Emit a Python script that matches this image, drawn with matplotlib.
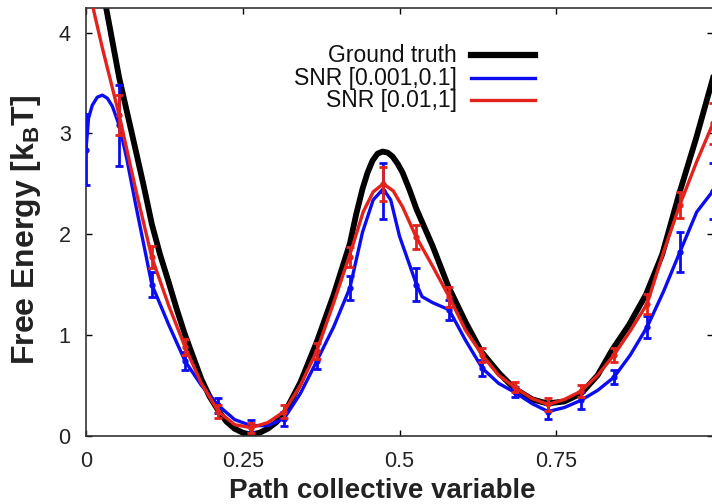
import matplotlib
matplotlib.use('Agg')
import matplotlib.pyplot as plt
from matplotlib.lines import Line2D

# sampled points with error bars (path CV grid)
pts_x = [0.0, 0.053, 0.105, 0.158, 0.211, 0.263, 0.316, 0.368, 0.421, 0.474,
         0.526, 0.579, 0.632, 0.684, 0.737, 0.789, 0.842, 0.895, 0.947, 1.0]
blue_pts = [2.84, 3.08, 1.50, 0.74, 0.30, 0.10, 0.17, 0.74, 1.47, 2.43,
            1.50, 1.25, 0.67, 0.43, 0.24, 0.35, 0.58, 1.08, 1.82, 2.43]
blue_err = [0.35, 0.40, 0.12, 0.09, 0.07, 0.06, 0.07, 0.08, 0.12, 0.28,
            0.16, 0.10, 0.08, 0.05, 0.07, 0.08, 0.07, 0.11, 0.20, 0.28]
red_pts = [4.55, 3.18, 1.77, 0.88, 0.24, 0.08, 0.24, 0.84, 1.77, 2.50,
           1.97, 1.38, 0.80, 0.48, 0.31, 0.44, 0.80, 1.31, 2.29, 3.10]
red_err = [0.20, 0.20, 0.11, 0.08, 0.06, 0.05, 0.06, 0.08, 0.10, 0.17,
           0.12, 0.10, 0.07, 0.05, 0.06, 0.06, 0.07, 0.10, 0.13, 0.20]

# smooth curves
truth_x = [0.0, 0.026, 0.053, 0.079, 0.092, 0.105, 0.118, 0.132, 0.145, 0.158,
           0.171, 0.184, 0.197, 0.211, 0.224, 0.237, 0.25, 0.263, 0.277, 0.29,
           0.303, 0.316, 0.342, 0.368, 0.395, 0.421, 0.431, 0.441, 0.449, 0.457,
           0.465, 0.473, 0.481, 0.489, 0.497, 0.505, 0.516, 0.527, 0.553, 0.578,
           0.606, 0.631, 0.659, 0.683, 0.712, 0.736, 0.763, 0.79, 0.816, 0.839,
           0.866, 0.893, 0.919, 0.946, 0.973, 1.0]
truth_y = [5.30, 4.45, 3.55, 2.84, 2.48, 2.10, 1.80, 1.52, 1.25, 1.00,
           0.78, 0.56, 0.39, 0.25, 0.14, 0.07, 0.03, 0.01, 0.03, 0.07,
           0.13, 0.22, 0.53, 0.93, 1.40, 1.91, 2.20, 2.45, 2.61, 2.73,
           2.80, 2.82, 2.81, 2.77, 2.70, 2.61, 2.44, 2.25, 1.88, 1.48,
           1.12, 0.83, 0.62, 0.47, 0.36, 0.32, 0.34, 0.42, 0.60, 0.85,
           1.10, 1.40, 1.80, 2.40, 2.95, 3.55]

blue_line_x = [0.0, 0.004, 0.01, 0.018, 0.026, 0.034, 0.042, 0.053, 0.065, 0.079,
               0.092, 0.105, 0.132, 0.158, 0.184, 0.211, 0.237, 0.263, 0.29, 0.316,
               0.342, 0.368, 0.395, 0.421, 0.441, 0.458, 0.474, 0.486, 0.5, 0.526,
               0.536, 0.553, 0.579, 0.605, 0.632, 0.658, 0.684, 0.711, 0.737, 0.763,
               0.789, 0.816, 0.842, 0.868, 0.895, 0.921, 0.947, 0.974, 1.0]
blue_line_y = [2.84, 3.15, 3.28, 3.36, 3.38, 3.35, 3.27, 3.08, 2.75, 2.30,
               1.90, 1.50, 1.10, 0.74, 0.50, 0.30, 0.16, 0.10, 0.10, 0.17,
               0.42, 0.74, 1.08, 1.47, 2.02, 2.34, 2.45, 2.34, 1.98, 1.52,
               1.38, 1.32, 1.25, 0.95, 0.67, 0.52, 0.43, 0.32, 0.24, 0.28,
               0.35, 0.45, 0.58, 0.80, 1.08, 1.43, 1.82, 2.22, 2.43]

red_line_x = [0.0, 0.026, 0.053, 0.079, 0.105, 0.132, 0.158, 0.184, 0.211, 0.237,
              0.263, 0.29, 0.316, 0.342, 0.368, 0.395, 0.421, 0.442, 0.458, 0.474,
              0.49, 0.505, 0.526, 0.553, 0.579, 0.605, 0.632, 0.658, 0.684, 0.711,
              0.737, 0.763, 0.789, 0.816, 0.842, 0.868, 0.895, 0.921, 0.947, 0.974, 1.0]
red_line_y = [4.55, 3.85, 3.18, 2.45, 1.77, 1.29, 0.88, 0.52, 0.24, 0.11,
              0.08, 0.13, 0.24, 0.50, 0.84, 1.32, 1.80, 2.22, 2.42, 2.50,
              2.43, 2.27, 1.98, 1.68, 1.38, 1.05, 0.80, 0.60, 0.48, 0.37,
              0.31, 0.36, 0.44, 0.60, 0.80, 1.04, 1.31, 1.82, 2.29, 2.72, 3.10]

labels = ['Ground truth', 'SNR [0.001,0.1]', 'SNR [0.01,1]']
x_ticks = [0, 0.25, 0.5, 0.75]
x_tick_labels = ['0', '0.25', '0.5', '0.75']
y_ticks = [0, 1, 2, 3, 4]

BLUE = '#0c0cf0'
RED = '#e3231b'

plt.rcParams['font.family'] = ['Liberation Sans', 'DejaVu Sans']
plt.rcParams['mathtext.fontset'] = 'custom'
plt.rcParams['mathtext.rm'] = 'Liberation Sans:bold'

fig = plt.figure(figsize=(7.12, 5.04), dpi=100)
ax = fig.add_axes([0.1208, 0.1355, 0.8806, 0.8496])

ax.plot(truth_x, truth_y, color='black', lw=4.2, zorder=2)
ax.plot(blue_line_x, blue_line_y, color=BLUE, lw=2.4, zorder=3)
ax.errorbar(pts_x, blue_pts, yerr=blue_err, fmt='o', ms=3.5, color=BLUE,
            elinewidth=2.0, capsize=3.2, capthick=2.0, zorder=3)
ax.plot(red_line_x, red_line_y, color=RED, lw=2.4, zorder=4)
ax.errorbar(pts_x, red_pts, yerr=red_err, fmt='o', ms=3.5, color=RED,
            elinewidth=2.0, capsize=3.2, capthick=2.0, zorder=4)

ax.set_xlim(0, 1)
ax.set_ylim(0, 4.25)
ax.set_xticks(x_ticks)
ax.set_xticklabels(x_tick_labels)
ax.set_yticks(y_ticks)
ax.tick_params(direction='in', length=4.5, width=1, top=True, right=True,
               pad=11, labelsize=15.5, labelcolor='#222222')
for s in ax.spines.values():
    s.set_linewidth(1.2)
    s.set_color('#333333')

ax.set_xlabel('Path collective variable', fontsize=20, fontweight='bold',
              color='#222222')
ax.xaxis.set_label_coords(0.472, -0.099)
ax.set_ylabel(r'Free Energy [k$_\mathrm{B}$T]', fontsize=23, fontweight='bold',
              color='#222222')
ax.yaxis.set_label_coords(-0.0686, 0.48)

# key, gnuplot style: right-aligned text, sample line on the right
key_colors = ['black', BLUE, RED]
key_widths = [4.5, 2.4, 2.4]
key_rows = [55, 78, 100]
for lab, c, w, yp in zip(labels, key_colors, key_widths, key_rows):
    yf = 1 - yp / 504
    fig.text(457 / 712, yf, lab, ha='right', va='center', fontsize=16.5,
             color='#111111')
    fig.add_artist(Line2D([471 / 712, 535 / 712], [yf, yf],
                          transform=fig.transFigure, color=c, lw=w))

fig.savefig('out.png', dpi=100)
